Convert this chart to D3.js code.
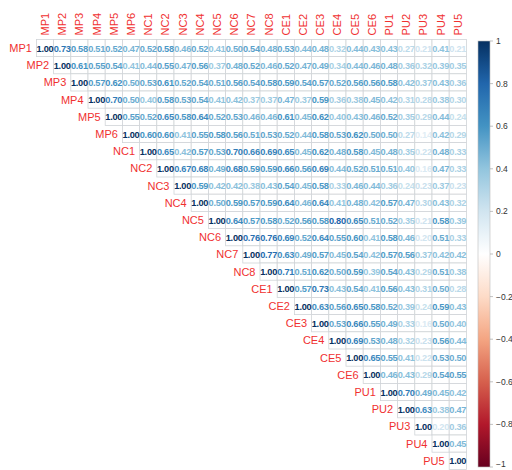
<!DOCTYPE html>
<html>
<head>
<meta charset="utf-8">
<script src="https://cdn.jsdelivr.net/npm/d3@7"></script>
<style>
  html, body { margin: 0; padding: 0; background: #fff; }
  svg { display: block; }
</style>
</head>
<body>
<svg id="chart" width="512" height="470"></svg>
<script>
// Item names, in matrix order
const items = ["MP1","MP2","MP3","MP4","MP5","MP6",
               "NC1","NC2","NC3","NC4","NC5","NC6","NC7","NC8",
               "CE1","CE2","CE3","CE4","CE5","CE6",
               "PU1","PU2","PU3","PU4","PU5"];

// Upper triangle of the correlation matrix: each row starts at its diagonal
const rowMP1 = [1.00,0.73,0.58,0.51,0.52,0.47,0.52,0.58,0.46,0.52,0.41,0.50,0.54,0.48,0.53,0.44,0.48,0.32,0.44,0.43,0.43,0.27,0.21,0.41,0.21];
const rowMP2 = [1.00,0.61,0.55,0.54,0.41,0.44,0.55,0.47,0.56,0.37,0.48,0.52,0.46,0.52,0.47,0.49,0.34,0.44,0.46,0.48,0.36,0.32,0.39,0.35];
const rowMP3 = [1.00,0.57,0.62,0.50,0.53,0.61,0.52,0.54,0.51,0.56,0.54,0.58,0.59,0.54,0.57,0.52,0.56,0.56,0.58,0.42,0.37,0.43,0.36];
const rowMP4 = [1.00,0.70,0.50,0.40,0.58,0.53,0.54,0.41,0.42,0.37,0.37,0.47,0.37,0.59,0.36,0.38,0.45,0.42,0.31,0.28,0.38,0.30];
const rowMP5 = [1.00,0.55,0.52,0.65,0.58,0.64,0.52,0.53,0.46,0.46,0.61,0.45,0.62,0.40,0.43,0.46,0.52,0.35,0.29,0.44,0.24];
const rowMP6 = [1.00,0.60,0.60,0.41,0.55,0.58,0.56,0.51,0.53,0.52,0.44,0.58,0.53,0.62,0.50,0.50,0.27,0.14,0.42,0.29];
const rowNC1 = [1.00,0.65,0.42,0.57,0.53,0.70,0.66,0.69,0.65,0.45,0.62,0.48,0.58,0.45,0.48,0.35,0.22,0.48,0.33];
const rowNC2 = [1.00,0.67,0.68,0.49,0.68,0.59,0.59,0.66,0.56,0.69,0.44,0.52,0.51,0.51,0.40,0.16,0.47,0.33];
const rowNC3 = [1.00,0.59,0.42,0.42,0.38,0.43,0.54,0.45,0.58,0.33,0.46,0.44,0.36,0.24,0.23,0.37,0.23];
const rowNC4 = [1.00,0.50,0.59,0.57,0.59,0.64,0.46,0.64,0.41,0.48,0.42,0.57,0.47,0.30,0.43,0.32];
const rowNC5 = [1.00,0.64,0.57,0.58,0.52,0.56,0.58,0.80,0.65,0.51,0.52,0.35,0.21,0.58,0.39];
const rowNC6 = [1.00,0.76,0.76,0.69,0.52,0.64,0.55,0.60,0.41,0.58,0.46,0.20,0.51,0.33];
const rowNC7 = [1.00,0.77,0.63,0.49,0.57,0.45,0.54,0.42,0.57,0.56,0.37,0.42,0.42];
const rowNC8 = [1.00,0.71,0.51,0.62,0.50,0.59,0.39,0.54,0.43,0.29,0.51,0.38];
const rowCE1 = [1.00,0.57,0.73,0.43,0.54,0.41,0.56,0.43,0.31,0.50,0.28];
const rowCE2 = [1.00,0.63,0.56,0.65,0.58,0.52,0.39,0.24,0.59,0.43];
const rowCE3 = [1.00,0.53,0.66,0.55,0.49,0.33,0.16,0.50,0.40];
const rowCE4 = [1.00,0.69,0.53,0.48,0.32,0.23,0.56,0.44];
const rowCE5 = [1.00,0.65,0.55,0.41,0.22,0.53,0.50];
const rowCE6 = [1.00,0.46,0.43,0.29,0.54,0.55];
const rowPU1 = [1.00,0.70,0.49,0.45,0.42];
const rowPU2 = [1.00,0.63,0.38,0.47];
const rowPU3 = [1.00,0.20,0.36];
const rowPU4 = [1.00,0.45];
const rowPU5 = [1.00];

const upperRows = [rowMP1,rowMP2,rowMP3,rowMP4,rowMP5,rowMP6,
                   rowNC1,rowNC2,rowNC3,rowNC4,rowNC5,rowNC6,rowNC7,rowNC8,
                   rowCE1,rowCE2,rowCE3,rowCE4,rowCE5,rowCE6,
                   rowPU1,rowPU2,rowPU3,rowPU4,rowPU5];

// Colour legend ticks
const legendTicks = [1, 0.8, 0.6, 0.4, 0.2, 0, -0.2, -0.4, -0.6, -0.8, -1];

// Diverging red-blue palette
const paletteStops = ["#67001F","#B2182B","#D6604D","#F4A582","#FDDBC7","#FFFFFF",
                      "#D1E5F0","#92C5DE","#4393C3","#2166AC","#053061"];

const svg = d3.select("#chart");
const n = items.length;
const cell = 17.2;
const x0 = 36.4, y0 = 39.4;

const x = d3.scaleBand().domain(items).range([x0, x0 + n * cell]).padding(0);
const y = d3.scaleBand().domain(items).range([y0, y0 + n * cell]).padding(0);
const color = d3.scaleLinear()
  .domain(d3.range(paletteStops.length).map(i => -1 + i * 0.2))
  .range(paletteStops)
  .interpolate(d3.interpolateRgb);

// Flatten the upper triangle into cells
const cells = [];
upperRows.forEach((row, i) => {
  row.forEach((v, k) => {
    const j = i + k;
    cells.push({ r: items[i], c: items[j], i, j, v });
  });
});

// Grid of the upper triangle
svg.append("g")
  .selectAll("rect")
  .data(cells)
  .join("rect")
  .attr("x", d => x(d.c))
  .attr("y", d => y(d.r))
  .attr("width", x.bandwidth())
  .attr("height", y.bandwidth())
  .attr("fill", "#fff")
  .attr("stroke", "#d0d4d8")
  .attr("stroke-width", 0.8);

// Coefficient labels, coloured by value
svg.append("g")
  .selectAll("text")
  .data(cells)
  .join("text")
  .attr("x", d => x(d.c) + x.bandwidth() / 2)
  .attr("y", d => y(d.r) + y.bandwidth() / 2 + 0.5)
  .attr("text-anchor", "middle")
  .attr("dominant-baseline", "central")
  .attr("font-family", "Liberation Sans, Arial, sans-serif")
  .attr("font-size", 9.2)
  .attr("letter-spacing", -0.25)
  .attr("font-weight", "bold")
  .attr("fill", d => color(d.v))
  .text(d => d.v.toFixed(2));

// Row labels beside the diagonal
svg.append("g")
  .selectAll("text")
  .data(items)
  .join("text")
  .attr("x", d => x(d) - 4.5)
  .attr("y", d => y(d) + y.bandwidth() / 2)
  .attr("text-anchor", "end")
  .attr("dominant-baseline", "central")
  .attr("font-family", "Liberation Sans, Arial, sans-serif")
  .attr("font-size", 11)
  .attr("fill", "#f03030")
  .text(d => d);

// Column labels, rotated
svg.append("g")
  .selectAll("text")
  .data(items)
  .join("text")
  .attr("transform", d => `translate(${x(d) + x.bandwidth() / 2},${y0 - 4}) rotate(-90)`)
  .attr("text-anchor", "start")
  .attr("dominant-baseline", "central")
  .attr("font-family", "Liberation Sans, Arial, sans-serif")
  .attr("font-size", 11)
  .attr("fill", "#f03030")
  .text(d => d);

// Colour bar
const barX = 478, barW = 12, barTop = 41, barBottom = 467;
const ly = d3.scaleLinear().domain([1, -1]).range([barTop, barBottom]);

const defs = svg.append("defs");
const grad = defs.append("linearGradient")
  .attr("id", "corrGrad")
  .attr("x1", 0).attr("y1", 0).attr("x2", 0).attr("y2", 1);
grad.selectAll("stop")
  .data(d3.range(0, 1.0001, 0.05))
  .join("stop")
  .attr("offset", t => t)
  .attr("stop-color", t => color(1 - 2 * t));

svg.append("rect")
  .attr("x", barX).attr("y", barTop)
  .attr("width", barW).attr("height", barBottom - barTop)
  .attr("fill", "url(#corrGrad)")
  .attr("stroke", "#bdbdbd")
  .attr("stroke-width", 0.6);

const lg = svg.append("g");
lg.selectAll("line")
  .data(legendTicks)
  .join("line")
  .attr("x1", barX + barW).attr("x2", barX + barW + 3)
  .attr("y1", d => ly(d)).attr("y2", d => ly(d))
  .attr("stroke", "#999").attr("stroke-width", 0.6);
lg.selectAll("text")
  .data(legendTicks)
  .join("text")
  .attr("x", 496)
  .attr("y", d => Math.min(ly(d), 464))
  .attr("text-anchor", "start")
  .attr("dominant-baseline", "central")
  .attr("font-family", "Liberation Sans, Arial, sans-serif")
  .attr("font-size", 8.5)
  .attr("fill", "#333")
  .text(d => d3.format("")(d));
</script>
</body>
</html>
